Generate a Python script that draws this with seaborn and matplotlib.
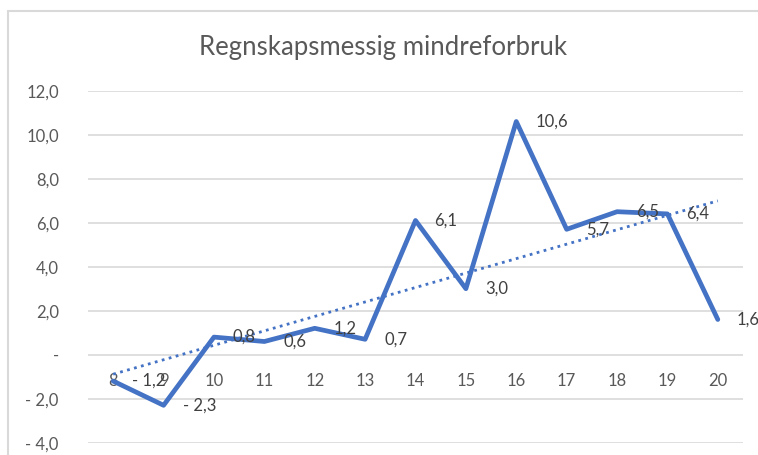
import numpy as np
import matplotlib
matplotlib.use("Agg")
import matplotlib.pyplot as plt
import seaborn as sns
from matplotlib.ticker import FuncFormatter
from matplotlib.lines import Line2D

# Data
years = [8, 9, 10, 11, 12, 13, 14, 15, 16, 17, 18, 19, 20]
values = [-1.2, -2.3, 0.8, 0.6, 1.2, 0.7, 6.1, 3.0, 10.6, 5.7, 6.5, 6.4, 1.6]
y_ticks = [-4, -2, 0, 2, 4, 6, 8, 10, 12]
title = "Regnskapsmessig mindreforbruk"

blue = "#4472C4"
grid_grey = "#D9D9D9"
tick_grey = "#595959"
label_grey = "#404040"


def no_fmt(v, pos=None):
    # Excel accounting style: "- 2,0", "-" for zero
    if abs(v) < 1e-9:
        return "-"
    s = f"{abs(v):.1f}".replace(".", ",")
    return "- " + s if v < 0 else s


sns.set_theme(style="white")
plt.rcParams['font.family'] = ['Lato', 'DejaVu Sans']

fig = plt.figure(figsize=(7.58, 4.55), dpi=100)
ax = fig.add_axes([88 / 758, 1 - 442.7 / 455, (743 - 88) / 758, (442.7 - 90.7) / 455])

# trendline (linear fit)
coef = np.polyfit(years, values, 1)
trend_x = np.array([years[0], years[-1]])
ax.plot(trend_x, np.polyval(coef, trend_x), color=blue, lw=2.0,
        linestyle=(0, (1, 1.6)), zorder=2)

sns.lineplot(x=years, y=values, ax=ax, color=blue, lw=3.4, zorder=3)

for x, y in zip(years, values):
    ax.annotate(no_fmt(y), (x, y), xytext=(19, 0), textcoords="offset pixels",
                ha="left", va="center", fontsize=12, color=label_grey,
                annotation_clip=False, zorder=4)

ax.set_xlim(7.5, 20.5)
ax.set_ylim(-4, 12)
ax.set_yticks(y_ticks)
ax.yaxis.set_major_formatter(FuncFormatter(no_fmt))
ax.set_xticks(years)
ax.set_xticklabels([str(y) for y in years])

ax.grid(axis="y", color=grid_grey, lw=1.2)
ax.grid(axis="x", visible=False)
for sp in ["top", "right", "left"]:
    ax.spines[sp].set_visible(False)
ax.spines["bottom"].set_position(("data", 0))
ax.spines["bottom"].set_visible(False)
ax.tick_params(axis="x", length=0, pad=13, labelsize=12, labelcolor=tick_grey)
ax.tick_params(axis="y", length=0, pad=21, labelsize=12, labelcolor=tick_grey)

fig.text(0.506, 1 - 47 / 455, title, ha="center", va="center",
         fontsize=18.5, color=tick_grey)

# chart frame (top and left edges visible in the screenshot)
fig.add_artist(Line2D([8 / 758, 8 / 758], [0, 1 - 11 / 455], color=grid_grey, lw=1.5))
fig.add_artist(Line2D([8 / 758, 1], [1 - 11 / 455, 1 - 11 / 455], color=grid_grey, lw=1.5))

fig.savefig("out.png", dpi=100, facecolor="white")
